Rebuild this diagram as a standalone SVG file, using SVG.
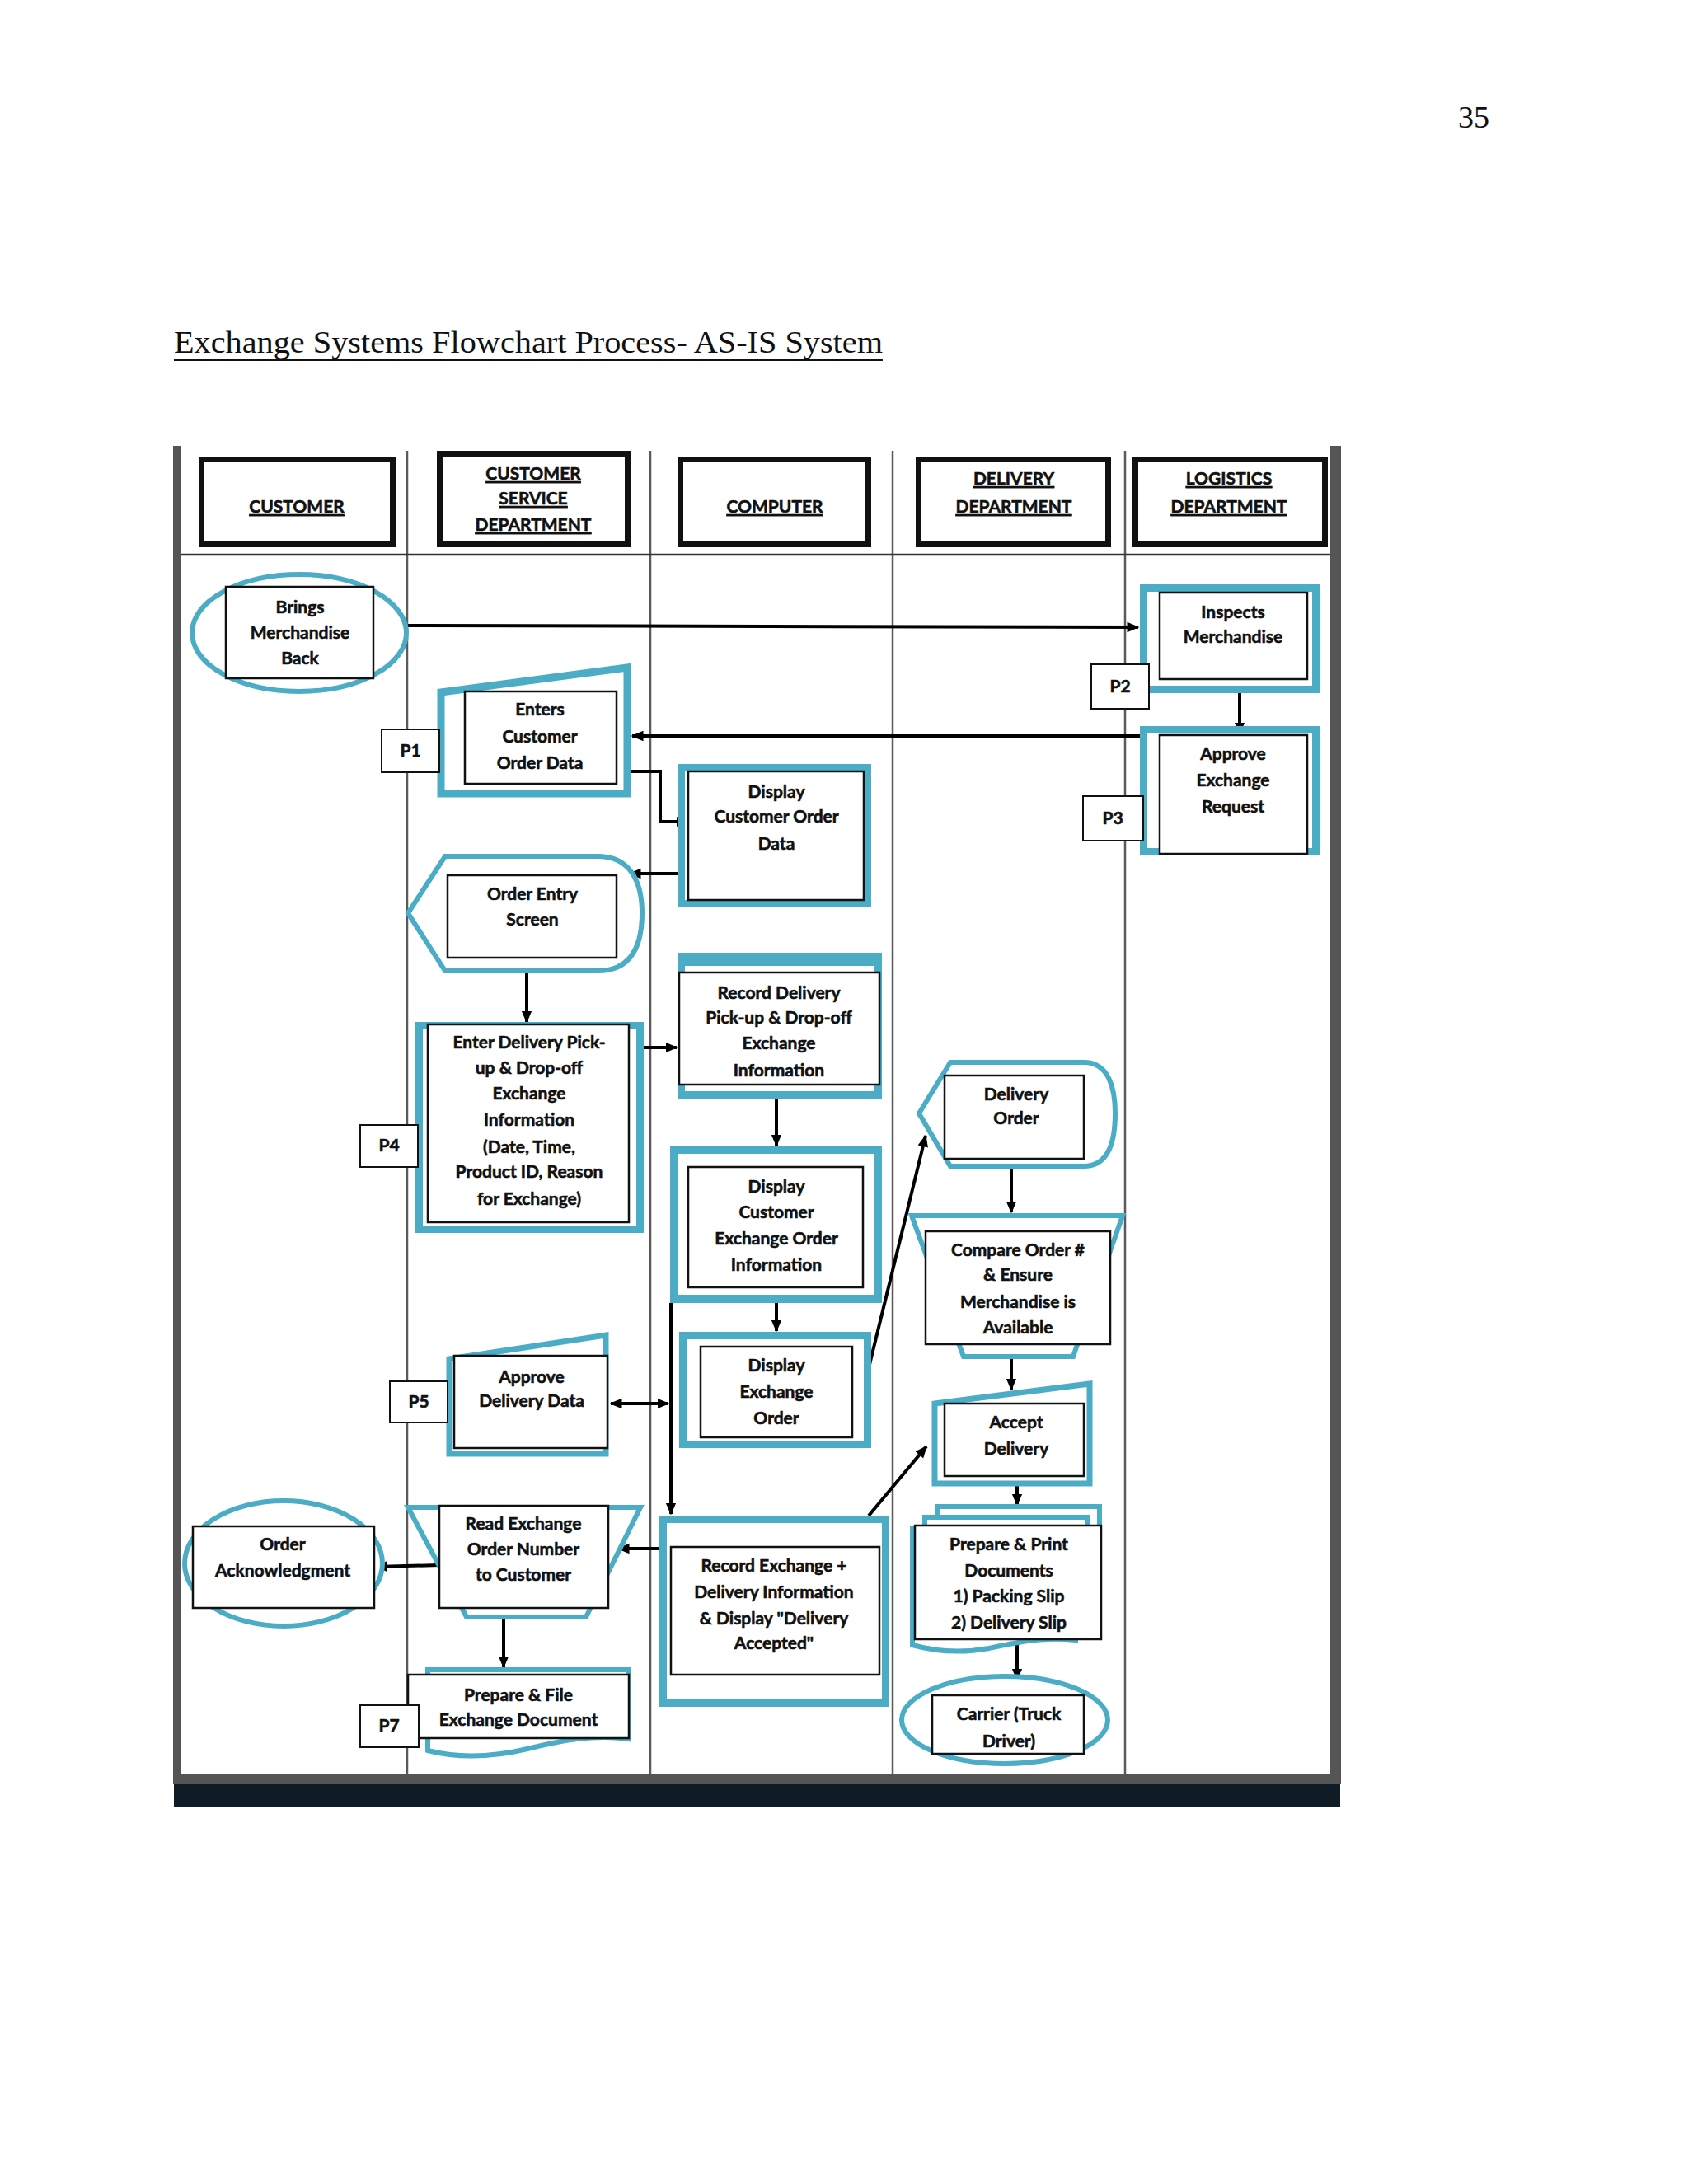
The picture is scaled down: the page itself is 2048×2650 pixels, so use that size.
<svg xmlns="http://www.w3.org/2000/svg" width="2048" height="2650" viewBox="0 0 2048 2650">
<defs>
<marker id="ah" viewBox="0 0 10 10" refX="9" refY="5" markerWidth="15" markerHeight="15" markerUnits="userSpaceOnUse" orient="auto-start-reverse">
<path d="M0,0.8 L10,5 L0,9.2 z" fill="#000"/>
</marker>
<style>
.teal{fill:#fff;stroke:#4bacc6;stroke-width:9}
.tl{fill:#fff;stroke:#4bacc6;stroke-width:6}
.box{fill:#fff;stroke:#111;stroke-width:2.5}
.hbox{fill:#fff;stroke:#111;stroke-width:7}
.pbox{fill:#fff;stroke:#111;stroke-width:2}
.lane{stroke:#5a5a5a;stroke-width:2.5}
.t{font-family:Lato,"Open Sans","Liberation Sans",sans-serif;font-weight:700;font-size:21px;fill:#111;stroke:#111;stroke-width:0.6;text-anchor:middle}
.h{font-family:Lato,"Open Sans","Liberation Sans",sans-serif;font-weight:700;font-size:21px;fill:#111;stroke:#111;stroke-width:0.6;text-anchor:middle;text-decoration:underline}
.c{fill:none;stroke:#000;stroke-width:4}
</style>
</defs>
<rect x="0" y="0" width="2048" height="2650" fill="#fff"/>
<text x="1807" y="155" font-family="Liberation Serif,serif" font-size="38" text-anchor="end" fill="#111">35</text>
<text x="211" y="428" font-family="Liberation Serif,serif" font-size="38" fill="#111" textLength="860" lengthAdjust="spacingAndGlyphs">Exchange Systems Flowchart Process- AS-IS System</text>
<line x1="211" y1="437" x2="1071" y2="437" stroke="#111" stroke-width="2"/>

<g id="frame">
<rect x="210" y="541" width="10" height="1624" fill="#555"/>
<rect x="1614" y="541" width="13" height="1624" fill="#555"/>
<line class="lane" x1="494" y1="547" x2="494" y2="2155"/>
<line class="lane" x1="789" y1="547" x2="789" y2="2155"/>
<line class="lane" x1="1083" y1="547" x2="1083" y2="2155"/>
<line class="lane" x1="1365" y1="547" x2="1365" y2="2155"/>
<line x1="220" y1="673" x2="1614" y2="673" stroke="#333" stroke-width="2.5"/>
<rect x="210" y="2153" width="1417" height="12" fill="#555"/>
<rect x="211" y="2165" width="1415" height="28" fill="#0f1c26"/>
</g>

<g id="h-customer"><rect class="hbox" x="244.5" y="557.5" width="232" height="103"/><text class="h" x="360" y="622">CUSTOMER</text></g>
<g id="h-cs"><rect class="hbox" x="533.5" y="550.5" width="228" height="110"/><text class="h" x="647" y="582">CUSTOMER</text><text class="h" x="647" y="612">SERVICE</text><text class="h" x="647" y="644">DEPARTMENT</text></g>
<g id="h-computer"><rect class="hbox" x="825.5" y="557.5" width="228" height="103"/><text class="h" x="940" y="622">COMPUTER</text></g>
<g id="h-delivery"><rect class="hbox" x="1114.5" y="557.5" width="230" height="103"/><text class="h" x="1230" y="588">DELIVERY</text><text class="h" x="1230" y="622">DEPARTMENT</text></g>
<g id="h-logistics"><rect class="hbox" x="1377.5" y="557.5" width="230" height="103"/><text class="h" x="1491" y="588">LOGISTICS</text><text class="h" x="1491" y="622">DEPARTMENT</text></g>

<g id="connectors">
<line class="c" x1="495" y1="759" x2="1381" y2="761" marker-end="url(#ah)"/>
<line class="c" x1="1504" y1="841" x2="1504" y2="890" marker-end="url(#ah)"/>
<line class="c" x1="1383" y1="893" x2="767" y2="893" marker-end="url(#ah)"/>
<polyline class="c" points="765,936 801,936 801,997 834,997" marker-end="url(#ah)"/>
<line class="c" x1="822" y1="1060" x2="764" y2="1060" marker-end="url(#ah)"/>
<line class="c" x1="639" y1="1181" x2="639" y2="1240" marker-end="url(#ah)"/>
<line class="c" x1="779" y1="1271" x2="821" y2="1271" marker-end="url(#ah)"/>
<line class="c" x1="942" y1="1333" x2="942" y2="1390" marker-end="url(#ah)"/>
<line class="c" x1="942" y1="1581" x2="942" y2="1615" marker-end="url(#ah)"/>
<line class="c" x1="1052" y1="1668" x2="1123" y2="1378" marker-end="url(#ah)"/>
<line class="c" x1="1227" y1="1418" x2="1227" y2="1471" marker-end="url(#ah)"/>
<line class="c" x1="1227" y1="1648" x2="1227" y2="1686" marker-end="url(#ah)"/>
<line class="c" x1="1234" y1="1791" x2="1234" y2="1826" marker-end="url(#ah)"/>
<line class="c" x1="1234" y1="1989" x2="1234" y2="2038" marker-end="url(#ah)"/>
<line class="c" x1="1054" y1="1839" x2="1124" y2="1755" marker-end="url(#ah)"/>
<line class="c" x1="741" y1="1703" x2="811" y2="1703" marker-start="url(#ah)" marker-end="url(#ah)"/>
<line class="c" x1="814" y1="1581" x2="814" y2="1837" marker-end="url(#ah)"/>
<line class="c" x1="800" y1="1879" x2="750" y2="1879" marker-end="url(#ah)"/>
<line class="c" x1="533" y1="1899" x2="456" y2="1901" marker-end="url(#ah)"/>
<line class="c" x1="611" y1="1965" x2="611" y2="2023" marker-end="url(#ah)"/>
</g>

<g id="n-brings"><ellipse class="tl" cx="363" cy="768" rx="130" ry="71"/><rect class="box" x="274" y="712" width="179" height="111"/><text class="t" x="364" y="744">Brings</text><text class="t" x="364" y="775">Merchandise</text><text class="t" x="364" y="806">Back</text></g>

<g id="n-inspects"><rect class="teal" x="1387.5" y="713.5" width="209" height="123"/><rect class="box" x="1407" y="719" width="179" height="105"/><text class="t" x="1496" y="750">Inspects</text><text class="t" x="1496" y="780">Merchandise</text></g>
<g id="p2"><rect class="pbox" x="1324" y="806" width="70" height="54"/><text class="t" x="1359" y="840">P2</text></g>

<g id="n-approve-req"><rect class="teal" x="1387.5" y="885.5" width="209" height="148"/><rect class="box" x="1407" y="892" width="179" height="144"/><text class="t" x="1496" y="922">Approve</text><text class="t" x="1496" y="954">Exchange</text><text class="t" x="1496" y="986">Request</text></g>
<g id="p3"><rect class="pbox" x="1314" y="966" width="73" height="54"/><text class="t" x="1350" y="1000">P3</text></g>

<g id="n-enters"><polygon class="teal" points="535,840 761,810 761,963 535,963"/><rect class="box" x="564" y="839" width="184" height="112"/><text class="t" x="655" y="868">Enters</text><text class="t" x="655" y="901">Customer</text><text class="t" x="655" y="933">Order Data</text></g>
<g id="p1"><rect class="pbox" x="463" y="885" width="70" height="52"/><text class="t" x="498" y="918">P1</text></g>

<g id="n-display-cod"><rect class="teal" x="826.5" y="931.5" width="226" height="165"/><rect class="box" x="835" y="936" width="213" height="156"/><text class="t" x="942" y="968">Display</text><text class="t" x="942" y="998">Customer Order</text><text class="t" x="942" y="1031">Data</text></g>

<g id="n-order-entry"><path class="tl" d="M540,1039 H725 C768,1039 779,1075 779,1108 C779,1145 768,1178 725,1178 H540 L495,1108 Z"/><rect class="box" x="543" y="1062" width="205" height="100"/><text class="t" x="646" y="1092">Order Entry</text><text class="t" x="646" y="1123">Screen</text></g>

<g id="n-enter-delivery"><rect class="teal" x="508.5" y="1244.5" width="268" height="247"/><rect class="box" x="519" y="1243" width="244" height="240"/>
<text class="t" x="642" y="1272">Enter Delivery Pick-</text><text class="t" x="642" y="1303">up &amp; Drop-off</text><text class="t" x="642" y="1334">Exchange</text><text class="t" x="642" y="1366">Information</text><text class="t" x="642" y="1399">(Date, Time,</text><text class="t" x="642" y="1429">Product ID, Reason</text><text class="t" x="642" y="1462">for Exchange)</text></g>
<g id="p4"><rect class="pbox" x="437" y="1365" width="70" height="51"/><text class="t" x="472" y="1397">P4</text></g>

<g id="n-record-delivery"><rect class="teal" x="826.5" y="1160.5" width="239" height="168"/><rect x="826" y="1158" width="240" height="14" fill="#4bacc6"/><rect class="box" x="824" y="1180" width="243" height="136"/><text class="t" x="945" y="1212">Record Delivery</text><text class="t" x="945" y="1242">Pick-up &amp; Drop-off</text><text class="t" x="945" y="1273">Exchange</text><text class="t" x="945" y="1306">Information</text></g>

<g id="n-display-ceo"><rect class="teal" x="818" y="1395" width="247" height="181" style="stroke-width:10"/><rect class="box" x="835" y="1416" width="212" height="146"/><text class="t" x="942" y="1447">Display</text><text class="t" x="942" y="1478">Customer</text><text class="t" x="942" y="1510">Exchange Order</text><text class="t" x="942" y="1542">Information</text></g>

<g id="n-delivery-order"><path class="tl" d="M1153,1289 H1315 C1345,1289 1353,1320 1353,1351 C1353,1385 1345,1415 1315,1415 H1153 L1115,1351 Z"/><rect class="box" x="1146" y="1305" width="169" height="101"/><text class="t" x="1233" y="1335">Delivery</text><text class="t" x="1233" y="1364">Order</text></g>

<g id="n-compare"><polygon class="tl" points="1106,1475 1362,1475 1302,1646 1169,1646"/><rect class="box" x="1123" y="1494" width="224" height="137"/><text class="t" x="1235" y="1524">Compare Order #</text><text class="t" x="1235" y="1554">&amp; Ensure</text><text class="t" x="1235" y="1587">Merchandise is</text><text class="t" x="1235" y="1618">Available</text></g>

<g id="n-display-eo"><rect class="teal" x="828.5" y="1620.5" width="224" height="132"/><rect class="box" x="850" y="1634" width="184" height="110"/><text class="t" x="942" y="1664">Display</text><text class="t" x="942" y="1696">Exchange</text><text class="t" x="942" y="1728">Order</text></g>

<g id="n-approve-dd"><polygon class="tl" points="545,1649 735,1620 735,1764 545,1764" style="stroke-width:7"/><rect class="box" x="551" y="1645" width="186" height="112"/><text class="t" x="645" y="1678">Approve</text><text class="t" x="645" y="1707">Delivery Data</text></g>
<g id="p5"><rect class="pbox" x="473" y="1676" width="70" height="50"/><text class="t" x="508" y="1708">P5</text></g>

<g id="n-accept"><polygon class="tl" points="1134,1703 1322,1679 1322,1800 1134,1800" style="stroke-width:7"/><rect class="box" x="1146" y="1703" width="169" height="88"/><text class="t" x="1233" y="1733">Accept</text><text class="t" x="1233" y="1765">Delivery</text></g>

<g id="n-record-exchange"><rect class="teal" x="804.5" y="1843.5" width="270" height="223"/><rect class="box" x="814" y="1877" width="253" height="155"/><text class="t" x="939" y="1907">Record Exchange +</text><text class="t" x="939" y="1939">Delivery Information</text><text class="t" x="939" y="1971">&amp; Display "Delivery</text><text class="t" x="939" y="2001">Accepted"</text></g>

<g id="n-prepare-print"><path class="tl" d="M1137,1828 H1334 V1975 H1137 Z"/><path class="tl" d="M1122,1841 H1320 V1985 H1122 Z"/><path class="tl" d="M1107,1854 H1305 V1990 C1262,1986 1232,1993 1200,2000 C1162,2007 1132,2003 1107,1996 Z"/><rect class="box" x="1110" y="1851" width="226" height="138"/><text class="t" x="1224" y="1881">Prepare &amp; Print</text><text class="t" x="1224" y="1913">Documents</text><text class="t" x="1224" y="1944">1) Packing Slip</text><text class="t" x="1224" y="1976">2) Delivery Slip</text></g>

<g id="n-carrier"><ellipse class="tl" cx="1219" cy="2087" rx="125" ry="53"/><rect class="box" x="1131" y="2057" width="184" height="71"/><text class="t" x="1224" y="2087">Carrier (Truck</text><text class="t" x="1224" y="2120">Driver)</text></g>

<g id="n-order-ack"><ellipse class="tl" cx="344" cy="1897" rx="120" ry="76"/><rect class="box" x="234" y="1852" width="220" height="99"/><text class="t" x="343" y="1881">Order</text><text class="t" x="343" y="1913">Acknowledgment</text></g>

<g id="n-read-exchange"><polygon class="tl" points="495,1829 777,1829 711,1962 566,1962"/><rect class="box" x="533" y="1827" width="205" height="124"/><text class="t" x="635" y="1856">Read Exchange</text><text class="t" x="635" y="1887">Order Number</text><text class="t" x="635" y="1918">to Customer</text></g>

<g id="n-prepare-file"><path class="tl" d="M519,2026 H762 V2110 C720,2104 680,2112 640,2122 C590,2134 550,2132 519,2124 Z"/><rect class="box" x="495" y="2032" width="268" height="77"/><text class="t" x="629" y="2064">Prepare &amp; File</text><text class="t" x="629" y="2094">Exchange Document</text></g>
<g id="p7"><rect class="pbox" x="437" y="2069" width="71" height="51"/><text class="t" x="472" y="2101">P7</text></g>
</svg>
